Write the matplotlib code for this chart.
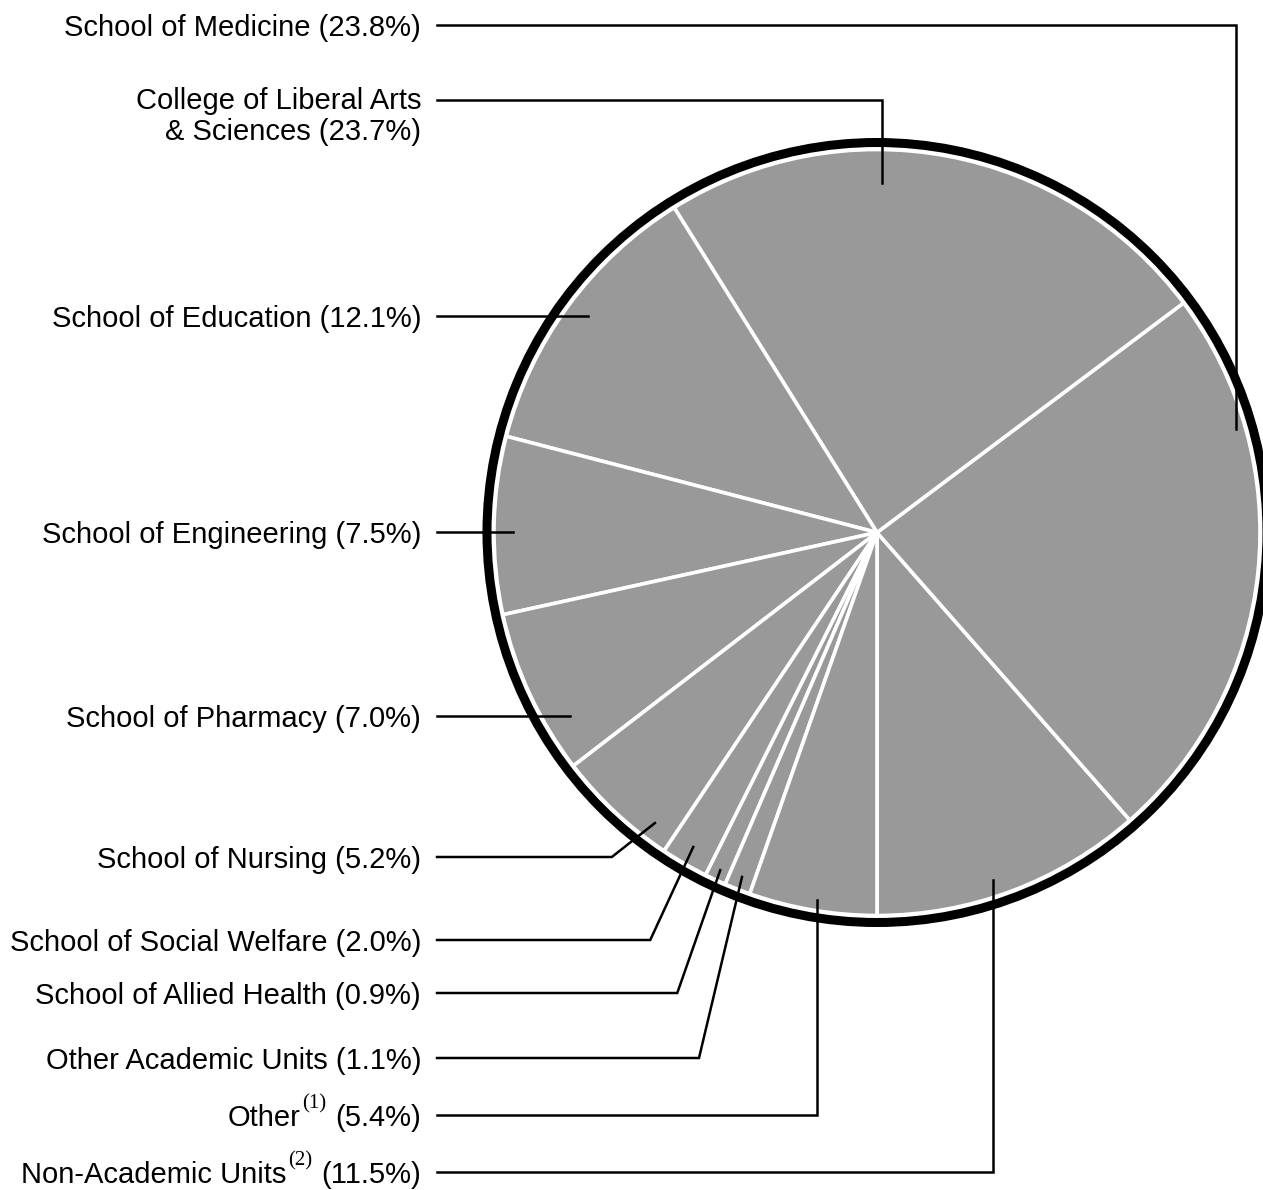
import numpy as np
import matplotlib
matplotlib.use("Agg")
import matplotlib.pyplot as plt
from matplotlib.patches import Circle

plt.rcParams['font.family'] = ['Liberation Sans', 'DejaVu Sans']

# wedge order: counterclockwise starting from the bottom
names = ["Non-Academic Units", "School of Medicine", "College of Liberal Arts\n& Sciences",
         "School of Education", "School of Engineering", "School of Pharmacy",
         "School of Nursing", "School of Social Welfare", "School of Allied Health",
         "Other Academic Units", "Other"]
notes = ["(2)", "", "", "", "", "", "", "", "", "", "(1)"]
shares = [11.5, 23.8, 23.7, 12.1, 7.5, 7.0, 5.2, 2.0, 0.9, 1.1, 5.4]

# label layout (pixels from top), leader kind, anchor angle (deg) and radius fraction
label_y = [1172, 25, 100, 316, 532, 716, 857, 940, 993, 1058, 1115]
leader = ['v', 'v', 'v', 'h', 'h', 'h', 'd', 'd', 'd', 'd', 'v']
anchor_ang = [288.5, 16.0, 89.2, 143.2, 180.0, 210.9, 232.6, 239.7, 245.1, 248.6, 260.7]
anchor_r = [0.956, 0.976, 0.913, 0.943, 0.95, 0.934, 0.955, 0.951, 0.972, 0.966, 0.972]

W, H = 1263, 1190
cx, cy, R = 877, H - 532.5, 383

fig = plt.figure(figsize=(W / 100, H / 100), dpi=100)
ax = fig.add_axes([0, 0, 1, 1])

ax.pie(shares, startangle=-90, counterclock=True, colors=['#999999'] * len(shares),
       center=(cx, cy), radius=R, frame=True,
       wedgeprops=dict(edgecolor='white', linewidth=2.6))
ax.set_xlim(0, W)
ax.set_ylim(0, H)
ax.axis('off')

ax.add_patch(Circle((cx, cy), R + 7, fill=False, edgecolor='black', linewidth=6.5, zorder=3))

renderer = fig.canvas.get_renderer()

def left_edge(t):
    bb = t.get_window_extent(renderer=renderer)
    return ax.transData.inverted().transform((bb.x0, bb.y0))[0]

text_x = 421
line_x0 = 437
fs = 21
for name, note, val, ly, kind, ang, rf in zip(names, notes, shares, label_y,
                                                leader, anchor_ang, anchor_r):
    y = H - ly
    pct = "(%.1f%%)" % val
    if '\n' in name:
        ax.text(text_x, y - 16.5, name + " " + pct, ha='right', va='center', fontsize=fs,
                multialignment='right', linespacing=1.12)
    elif note:
        base_y = y - 11
        t = ax.text(text_x, base_y, pct, ha='right', va='baseline', fontsize=fs)
        x1 = left_edge(t)
        # superscript note in a serif face, raised above the baseline
        s = ax.text(x1 - 9, base_y + 18, note, ha='right', va='baseline', fontsize=15,
                    family='Liberation Serif')
        x2 = left_edge(s)
        ax.text(x2 - 2, base_y, name, ha='right', va='baseline', fontsize=fs)
    else:
        ax.text(text_x, y - 11, name + " " + pct, ha='right', va='baseline', fontsize=fs)

    a = np.deg2rad(ang)
    px = cx + rf * R * np.cos(a)
    py = cy + rf * R * np.sin(a)
    if kind == 'h':
        xs, ys = [line_x0, px], [y, y]
    elif kind == 'v':
        xs, ys = [line_x0, px, px], [y, y, py]
    else:
        xs, ys = [line_x0, px - 43, px], [y, y, py]
    ax.plot(xs, ys, color='black', linewidth=1.8, solid_joinstyle='miter', zorder=4)

plt.savefig("out.png", dpi=100)
